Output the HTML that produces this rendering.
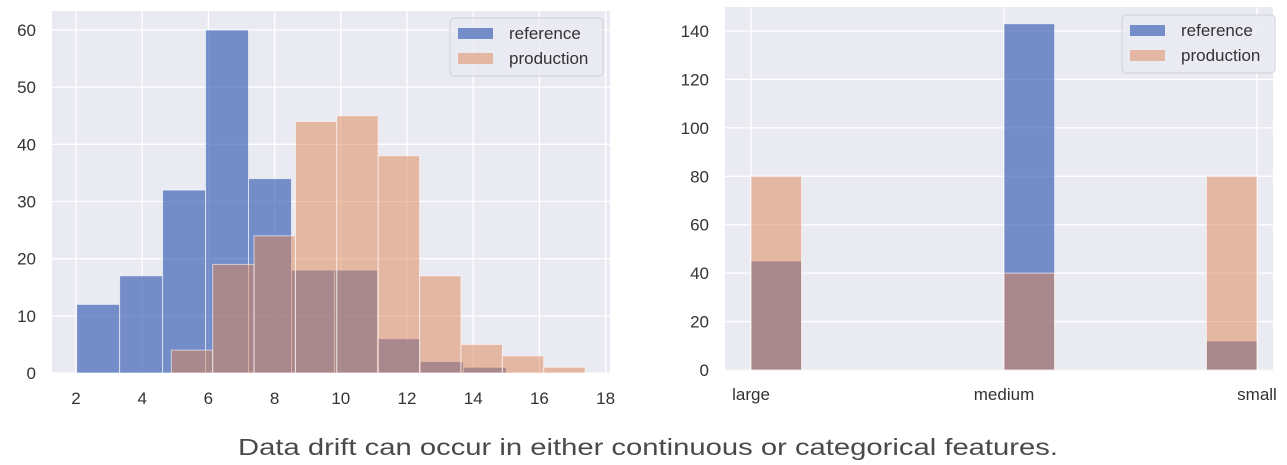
<!DOCTYPE html>
<html><head><meta charset="utf-8">
<style>
html,body{margin:0;padding:0;background:#fff;}
svg{display:block;font-family:"Liberation Sans",Arial,sans-serif;}
</style></head>
<body>
<svg id="root" width="1287" height="465" viewBox="0 0 1287 465">
<text x="648" y="455" text-anchor="middle" font-size="23" fill="#4a4a4a" textLength="820" lengthAdjust="spacingAndGlyphs">Data drift can occur in either continuous or categorical features.</text>
</svg>
<script>
// Left chart data (continuous histogram)
const leftRefStart = 2.02;
const leftRefWidth = 1.298;
const leftRefCounts = [12, 17, 32, 60, 34, 18, 18, 6, 2, 1];
const leftProdStart = 4.88;
const leftProdWidth = 1.25;
const leftProdCounts = [4, 19, 24, 44, 45, 38, 17, 5, 3, 1];
const leftXTicks = [2, 4, 6, 8, 10, 12, 14, 16, 18];
const leftYTicks = [0, 10, 20, 30, 40, 50, 60];
// Right chart data (categorical; histogram bins over 0..2)
const rightCategories = ["large", "medium", "small"];
const rightBinStarts = [0, 1, 1.8];
const rightBinWidth = 0.2;
const rightRefCounts = [45, 143, 12];
const rightProdCounts = [80, 40, 80];
const rightYTicks = [0, 20, 40, 60, 80, 100, 120, 140];

const NS = "http://www.w3.org/2000/svg";
const root = document.getElementById('root');
function mk(tag, attrs, parent){ const e=document.createElementNS(NS,tag); for(const k in attrs) e.setAttribute(k,attrs[k]); (parent||root).appendChild(e); return e; }
const REF = "rgba(70,105,185,0.72)", PROD = "rgba(221,132,82,0.5)";

function legend(g, x, y){
  const box = mk('rect',{x:x,y:y,width:153,height:58,rx:4,fill:'#eaeaf2','fill-opacity':0.8,stroke:'#d0d0d8'},g);
  
  
  const items=[['reference',REF],['production',PROD]];
  items.forEach((it,i)=>{
    const eg = mk('g',{},g);
    
    
    mk('rect',{x:x+8,y:y+10+i*25,width:35,height:11,fill:it[1]},eg);
    const t = mk('text',{x:x+59,y:y+21+i*25,'font-size':17,fill:'#333'},eg);
    t.textContent = it[0];
  });
}

// ---- Left chart ----
(function(){
  const g = mk('g',{});
  
  
  const L=52,R=610,T=11,B=373;
  const xs = v => 76 + (v-2)*33.1;
  const ys = v => 373 - v*(343/60);
  const bg = mk('rect',{x:L,y:T,width:R-L,height:B-T,fill:'#eaeaf2'},g);
  
  
  leftYTicks.forEach(v=>{
    mk('line',{x1:L,x2:R,y1:ys(v),y2:ys(v),stroke:'#fff','stroke-width':1.3},g);
    const t = mk('text',{x:36,y:ys(v)+6,'font-size':17,fill:'#333','text-anchor':'end'},g);
    
    
    t.textContent=v;
  });
  leftXTicks.forEach(v=>{
    mk('line',{x1:xs(v),x2:xs(v),y1:T,y2:B,stroke:'#fff','stroke-width':1.3},g);
    const t = mk('text',{x:xs(v),y:404,'font-size':17,fill:'#333','text-anchor':'middle'},g);
    
    
    t.textContent=v;
  });
  leftRefCounts.forEach((c,i)=>{
    const x0=xs(leftRefStart+i*leftRefWidth), x1=xs(leftRefStart+(i+1)*leftRefWidth);
    const r = mk('rect',{x:x0,y:ys(c),width:x1-x0,height:ys(0)-ys(c),fill:REF,stroke:'#fff','stroke-opacity':0.6,'stroke-width':1},g);
    
    
  });
  leftProdCounts.forEach((c,i)=>{
    const x0=xs(leftProdStart+i*leftProdWidth), x1=xs(leftProdStart+(i+1)*leftProdWidth);
    const r = mk('rect',{x:x0,y:ys(c),width:x1-x0,height:ys(0)-ys(c),fill:PROD,stroke:'#fff','stroke-opacity':0.6,'stroke-width':1},g);
    
    
  });
  const lg = mk('g',{},g);
  
  
  legend(lg,450,18);
})();

// ---- Right chart ----
(function(){
  const g = mk('g',{});
  
  
  const L=725,R=1273,T=7,B=371;
  const xs = v => 751 + v*253;
  const ys = v => 370 - v*(339/140);
  const bg = mk('rect',{x:L,y:T,width:R-L,height:B-T,fill:'#eaeaf2'},g);
  
  
  rightYTicks.forEach(v=>{
    mk('line',{x1:L,x2:R,y1:ys(v),y2:ys(v),stroke:'#fff','stroke-width':1.3},g);
    const t = mk('text',{x:709,y:ys(v)+6,'font-size':17,fill:'#333','text-anchor':'end'},g);
    
    
    t.textContent=v;
  });
  rightCategories.forEach((c,i)=>{
    mk('line',{x1:xs(i),x2:xs(i),y1:T,y2:B,stroke:'#fff','stroke-width':1.3},g);
    const t = mk('text',{x:xs(i),y:400,'font-size':17,fill:'#333','text-anchor':'middle'},g);
    
    
    t.textContent=c;
  });
  rightRefCounts.forEach((c,i)=>{
    const x0 = xs(rightBinStarts[i]), x1 = xs(rightBinStarts[i]+rightBinWidth);
    const r = mk('rect',{x:x0,y:ys(c),width:x1-x0,height:ys(0)-ys(c),fill:REF,stroke:'#fff','stroke-opacity':0.6},g);
    
    
  });
  rightProdCounts.forEach((c,i)=>{
    const x0 = xs(rightBinStarts[i]), x1 = xs(rightBinStarts[i]+rightBinWidth);
    const r = mk('rect',{x:x0,y:ys(c),width:x1-x0,height:ys(0)-ys(c),fill:PROD,stroke:'#fff','stroke-opacity':0.6},g);
    
    
  });
  const lg = mk('g',{},g);
  
  
  legend(lg,1122,15);
})();
</script>
</body></html>
